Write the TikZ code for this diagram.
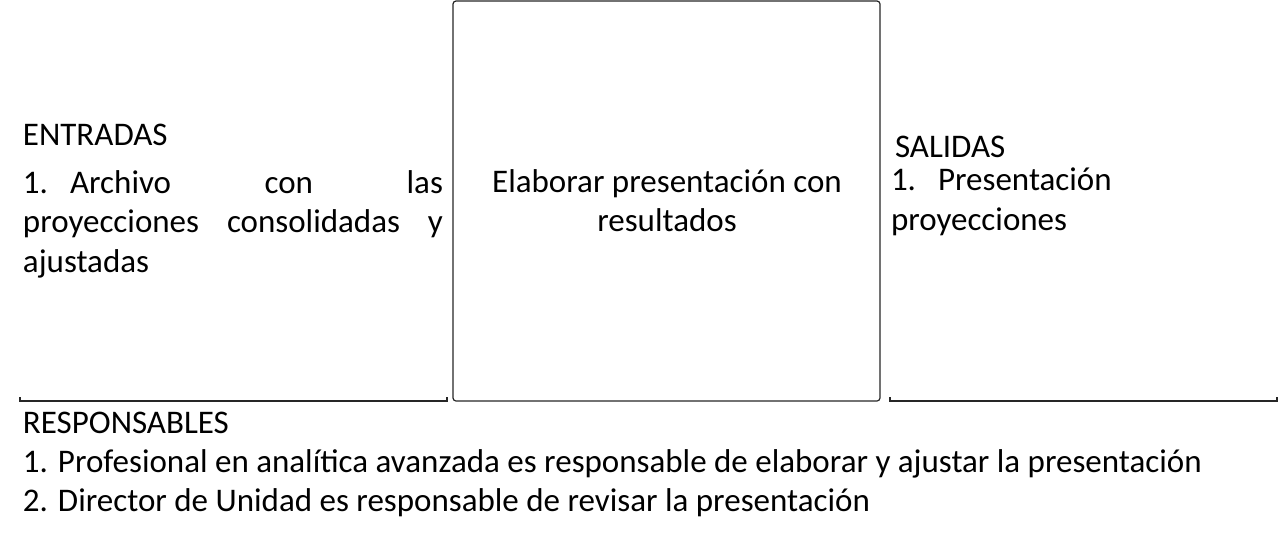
\documentclass[tikz,border=0pt]{standalone}
\usepackage{fontspec}
\setmainfont{Carlito}
\begin{document}
\begin{tikzpicture}[x=1pt,y=-1pt,
  txt/.style={inner sep=0pt,outer sep=0pt,anchor=base west,font=\fontsize{33}{40}\selectfont},
  ctxt/.style={inner sep=0pt,outer sep=0pt,anchor=base,font=\fontsize{33}{40}\selectfont},
  rule/.style={draw=black!85,line width=1.2pt}]
\useasboundingbox (0,0) rectangle (1280,539);
% lines and box
\draw[rule] (20,397) -- (20,401) -- (447,401) -- (447,397);
\draw[rule,rounded corners=3pt] (453,1) rectangle (880,401);
\draw[rule] (890,397) -- (890,401) -- (1277,401) -- (1277,397);
% ENTRADAS
\node[txt] (ent) at (23,145) {ENTRADAS};
\node[txt] (e1) at (23,193) {\makebox[420pt][s]{1.\hspace{22pt}Archivo\hfill con\hfill las}};
\node[txt] (e2) at (23,232) {\makebox[420pt][s]{proyecciones\hfill consolidadas\hfill y}};
\node[txt] (e3) at (23,272) {ajustadas};
% center
\node[ctxt] (c1) at (667,192) {Elaborar presentación con};
\node[ctxt] (c2) at (667,231) {resultados};
% SALIDAS
\node[txt] (sal) at (895,157) {SALIDAS};
\node[txt] (s1) at (891,190) {1.\hspace{22pt}Presentación};
\node[txt] (s2) at (891,230) {proyecciones};
% RESPONSABLES
\node[txt] (res) at (23,433) {RESPONSABLES};
\node[txt] (r1) at (23,472) {1. Profesional en analítica avanzada es responsable de elaborar y ajustar la presentación};
\node[txt] (r2) at (23,511) {2. Director de Unidad es responsable de revisar la presentación};
\end{tikzpicture}
\end{document}
